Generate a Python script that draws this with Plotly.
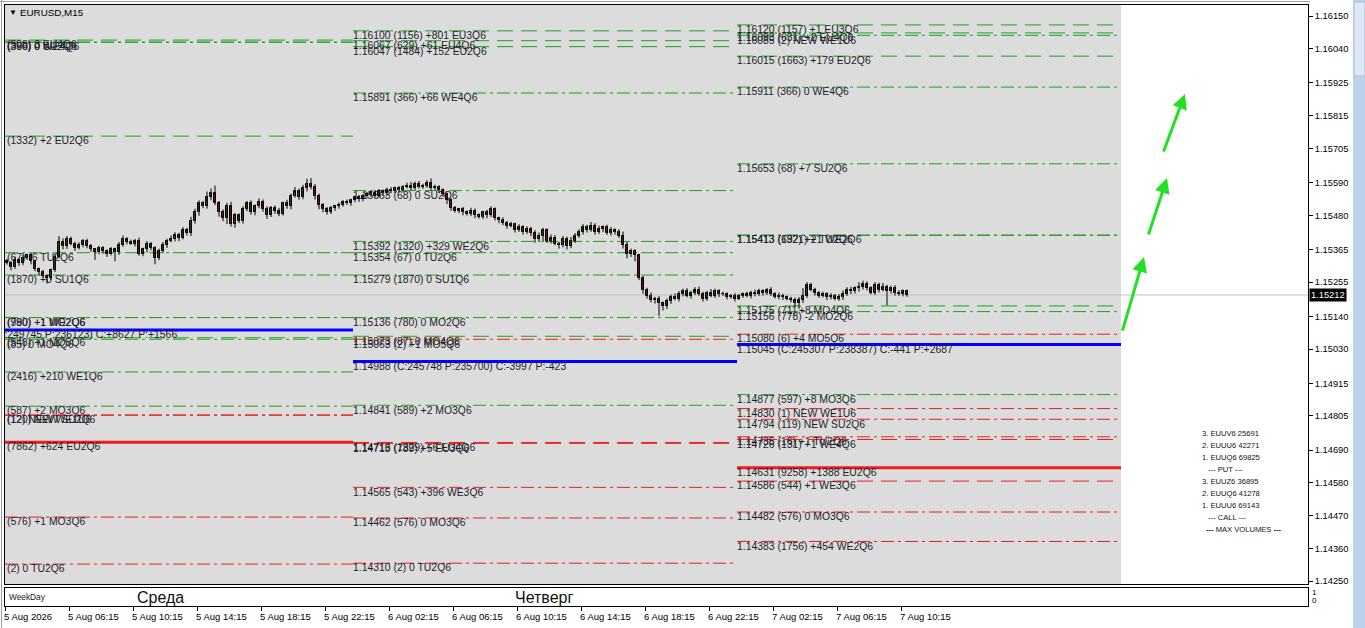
import plotly.graph_objects as go

# ---------------- data ----------------
first_open = 1.15325
closes = [
 1.15320,1.15305,1.15330,1.15318,
 1.15335,1.15345,1.15325,
 1.15300,1.15290,1.15275,1.15270,1.15295,
 1.15340,1.15390,1.15375,1.15400,
 1.15385,1.15370,1.15380,1.15395,1.15375,1.15365,1.15355,1.15370,
 1.15360,1.15350,1.15365,1.15355,1.15380,
 1.15400,1.15390,1.15385,
 1.15395,1.15350,1.15365,1.15385,1.15370,
 1.15335,1.15360,1.15380,
 1.15395,1.15400,1.15415,1.15405,1.15430,1.15420,
 1.15460,1.15490,1.15520,1.15510,1.15540,1.15555,1.15520,
 1.15490,1.15470,1.15510,1.15450,1.15480,1.15460,
 1.15500,1.15520,1.15490,1.15510,1.15525,1.15500,1.15480,1.15505,1.15495,1.15485,
 1.15520,1.15510,1.15545,1.15560,1.15540,
 1.15570,1.15585,1.15575,1.15545,
 1.15515,1.15500,1.15490,1.15505,
 1.15510,1.15515,1.15525,1.15520,1.15530,1.15540,1.15535,
 1.15545,1.15550,1.15555,1.15545,1.15560,1.15555,1.15565,1.15560,1.15570,1.15565,
 1.15575,1.15580,1.15570,1.15585,1.15575,1.15580,1.15590,1.15570,1.15575,1.15565,
 1.15550,1.15530,1.15505,1.15495,1.15500,
 1.15490,1.15485,1.15495,1.15480,1.15475,1.15490,1.15480,1.15500,1.15470,1.15465,
 1.15455,1.15445,1.15450,1.15430,1.15440,1.15425,1.15435,
 1.15420,1.15400,1.15410,1.15430,1.15395,1.15405,1.15385,
 1.15380,1.15400,1.15375,1.15395,1.15410,1.15425,
 1.15440,1.15430,1.15445,1.15425,1.15435,1.15440,1.15420,1.15430,1.15425,1.15410,
 1.15380,1.15350,
 1.15360,1.15345,1.15270,1.15228,
 1.15210,1.15195,1.15200,1.15185,1.15175,1.15190,
 1.15205,1.15200,1.15215,1.15225,1.15210,1.15220,1.15230,1.15215,1.15200,1.15220,1.15210,1.15225,1.15215,
 1.15215,1.15205,1.15210,1.15200,1.15210,1.15215,1.15210,1.15220,1.15215,1.15225,1.15220,1.15230,1.15215,1.15205,1.15210,1.15205,1.15200,1.15195,
 1.15185,1.15195,1.15210,1.15245,
 1.15230,1.15220,1.15210,1.15215,1.15205,1.15210,1.15200,1.15205,1.15215,1.15230,1.15225,1.15235,
 1.15240,1.15250,1.15235,1.15220,1.15245,1.15230,1.15240,1.15225,1.15235,1.15220,1.15215,1.15225,1.15212,
]
# wick lengths in points (1e-5)
upper_wick = [
 8,5,10,6,12,6,8,5,4,6,
 5,6,10,20,12,10,8,6,9,5,
 6,8,5,7,6,5,8,6,10,12,
 6,8,5,10,6,8,5,6,8,10,
 6,12,8,6,10,8,15,12,10,8,
 20,15,25,8,10,12,15,8,6,10,
 8,10,6,12,8,10,6,8,10,6,
 12,8,15,10,12,18,20,10,8,6,
 8,6,5,8,6,8,5,6,8,6,
 8,6,10,8,6,8,10,6,8,6,
 10,12,8,10,6,8,14,8,6,5,
 6,8,6,5,8,6,10,8,6,5,
 8,10,6,5,8,6,8,5,10,6,
 8,6,10,12,8,6,10,8,6,10,
 8,12,10,8,10,8,12,8,10,6,
 8,10,6,8,15,10,8,6,5,6,
 8,10,6,8,5,10,8,12,10,8,
 10,6,8,10,8,6,12,8,6,8,
 6,5,8,6,5,8,6,10,8,6,
 5,8,6,10,6,5,6,8,10,25,
 10,8,6,5,8,6,8,5,10,12,
 8,10,6,15,10,8,6,10,8,12,
 6,8,10,8,6,5,
]
lower_wick = [
 6,10,5,8,6,5,10,8,12,6,
 20,8,6,5,10,8,6,10,5,8,
 6,8,25,6,8,10,5,30,8,6,
 8,5,10,6,8,10,8,20,6,8,
 10,6,8,12,6,8,10,8,12,6,
 8,10,6,15,10,20,8,12,6,8,
 6,8,10,6,8,12,6,10,8,6,
 8,10,6,8,6,10,8,12,15,10,
 8,6,10,8,6,5,8,6,10,8,
 6,8,5,6,8,10,6,5,8,6,
 5,6,8,5,6,8,6,5,10,8,
 12,10,6,8,10,6,8,10,6,8,
 10,6,8,12,8,10,6,8,6,10,
 8,10,12,6,20,8,10,6,12,8,
 10,6,8,6,10,8,6,10,8,12,
 6,8,10,6,12,15,10,20,8,12,
 10,8,12,44,15,10,8,6,10,8,
 6,10,8,6,10,8,6,8,10,6,
 8,6,10,5,8,6,10,8,6,10,
 8,6,5,8,10,6,8,15,20,10,
 8,6,10,8,6,10,8,6,8,10,
 6,10,8,12,10,8,6,8,10,6,
 48,8,10,6,8,6,
]
current_price = 1.15212

# option levels, one block per day (kinds: C- call dashed, C. call dash-dot,
# P- put dashed, P. put dash-dot, PMAX max put volume, BAL balance line)
day1_prices = [1.16069, 1.16062, 1.16062, 1.15746, 1.15354, 1.15279, 1.15136, 1.15136,
               1.15094, 1.15068, 1.15063, 1.14953, 1.14838, 1.14808, 1.14808, 1.14717,
               1.14465, 1.14307]
day1_labels = ["(508) 3 EU4Q6", "(366) 0 WE4Q6", "(390) 0 SU2Q6", "(1332) +2 EU2Q6",
               "(67) -6 TU2Q6", "(1870) +0 SU1Q6", "(990) +1 MO2Q6", "(780) +1 WE2Q6",
               "1.15094 (C:249745 P:236123) C:+8627 P:+1566", "(548) +1 MO5Q6", "(85) 0 MO4Q6",
               "(2416) +210 WE1Q6", "(587) +2 MO3Q6", "(12) NEW WE1U6", "(120) NEW SU2Q6",
               "(7862) +624 EU2Q6", "(576) +1 MO3Q6", "(2) 0 TU2Q6"]
day1_kinds = ["C-", "C.", "C.", "C-", "C.", "C.", "C.", "C.", "BAL", "C-", "C.", "C.", "C.",
              "P.", "P.", "PMAX", "P.", "P."]

day2_prices = [1.16100, 1.16067, 1.16047, 1.15891, 1.15563, 1.15392, 1.15354, 1.15279,
               1.15136, 1.15073, 1.15063, 1.14988, 1.14841, 1.14716, 1.14713, 1.14565,
               1.14462, 1.14310]
day2_labels = ["1.16100 (1156) +801 EU3Q6", "1.16067 (629) +61 EU4Q6", "1.16047 (1484) +152 EU2Q6",
               "1.15891 (366) +66 WE4Q6", "1.15563 (68) 0 SU2Q6", "1.15392 (1320) +329 WE2Q6",
               "1.15354 (67) 0 TU2Q6", "1.15279 (1870) 0 SU1Q6", "1.15136 (780) 0 MO2Q6",
               "1.15073 (87) 0 MO4Q6", "1.15063 (2) +1 MO5Q6",
               "1.14988 (C:245748 P:235700) C:-3997 P:-423", "1.14841 (589) +2 MO3Q6",
               "1.14716 (1329) +6 EU4Q6", "1.14713 (789) +5 EU3Q6", "1.14565 (543) +396 WE3Q6",
               "1.14462 (576) 0 MO3Q6", "1.14310 (2) 0 TU2Q6"]
day2_kinds = ["C-", "C-", "C-", "C.", "C.", "C.", "C.", "C.", "C.", "C-", "P.", "BAL", "C.",
              "P-", "P-", "P.", "P.", "P."]

day3_prices = [1.16120, 1.16093, 1.16085, 1.16015, 1.15911, 1.15653, 1.15413, 1.15413,
               1.15175, 1.15156, 1.15080, 1.15045, 1.14877, 1.14830, 1.14794, 1.14735,
               1.14726, 1.14631, 1.14586, 1.14482, 1.14383]
day3_labels = ["1.16120 (1157) +1 EU3Q6", "1.16093 (631) +2 EU4Q6", "1.16085 (2) NEW WE1U6",
               "1.16015 (1663) +179 EU2Q6", "1.15911 (366) 0 WE4Q6", "1.15653 (68) +7 SU2Q6",
               "1.15413 (692) +2 TU2Q6", "1.15413 (1321) +1 WE2Q6", "1.15175 (71) +8 MO4Q6",
               "1.15156 (778) -2 MO2Q6", "1.15080 (6) +4 MO5Q6",
               "1.15045 (C:245307 P:238387) C:-441 P:+2687", "1.14877 (597) +8 MO3Q6",
               "1.14830 (1) NEW WE1U6", "1.14794 (119) NEW SU2Q6", "1.14735 (16) +1 TU2Q6",
               "1.14726 (131) +1 WE4Q6", "1.14631 (9258) +1388 EU2Q6", "1.14586 (544) +1 WE3Q6",
               "1.14482 (576) 0 MO3Q6", "1.14383 (1756) +454 WE2Q6"]
day3_kinds = ["C-", "C-", "C.", "C-", "C.", "C.", "C.", "C.", "C-", "C.", "P.", "BAL", "C.",
              "P.", "P.", "P.", "P-", "PMAX", "P-", "P.", "P."]

day_start_bar = [-0.5, 86.5, 182.5]
day_end_bar = [86.5, 182.5, 278.5]

# forecast arrows (bar index, price)
arrow_from_bar = [278.75, 285.25, 289.0]
arrow_from_price = [1.15087, 1.15410, 1.15689]
arrow_to_bar = [284.25, 290.0, 294.5]
arrow_to_price = [1.15340, 1.15605, 1.15888]

max_volume_lines = ["3. EUUV6 25691", "2. EUUU6 42271", "1. EUUQ6 69825", "--- PUT ---",
                    "3. EUUZ6 36895", "2. EUUQ6 41278", "1. EUUU6 69143", "--- CALL ---",
                    "<b>---</b> MAX VOLUMES <b>---</b>"]

price_ticks = ["1.16150", "1.16040", "1.15925", "1.15815", "1.15705", "1.15590", "1.15480",
               "1.15365", "1.15255", "1.15140", "1.15030", "1.14915", "1.14805", "1.14690",
               "1.14580", "1.14470", "1.14360", "1.14250"]
time_tick_bars = [0, 16, 32, 48, 64, 80, 96, 112, 128, 144, 160, 176, 192, 208, 224]
time_tick_labels = ["5 Aug 2026", "5 Aug 06:15", "5 Aug 10:15", "5 Aug 14:15", "5 Aug 18:15",
                    "5 Aug 22:15", "6 Aug 02:15", "6 Aug 06:15", "6 Aug 10:15", "6 Aug 14:15",
                    "6 Aug 18:15", "6 Aug 22:15", "7 Aug 02:15", "7 Aug 06:15", "7 Aug 10:15"]
weekday_bars = [32.5, 127.0]
weekday_names = ["Среда", "Четверг"]

# ---------------- styles ----------------
GREEN = "#1fa01f"
RED = "#ee1c1c"
BLUE = "#0000ff"
DASH = "16px,8px"
DASHDOT = "13px,4px,3px,4px"
STYLE = {
    "C-": (GREEN, 1, DASH), "C.": (GREEN, 1, DASHDOT),
    "P-": (RED, 1, DASH), "P.": (RED, 1, DASHDOT),
    "PMAX": (RED, 3, "solid"), "BAL": (BLUE, 3, "solid"),
}
FONT = "Liberation Sans, Arial, sans-serif"
LABEL_COLOR = "#1e1e2a"
W, H = 1365, 628
ML, MR, MT, MB = 5, 57, 5, 22
PW, PH = W - ML - MR, H - MT - MB
XR0, XR1 = -0.5, 325.25


def px_x(px):
    return (px - ML) / PW


def px_y(py):
    return 1 - (py - MT) / PH


def bar_x(b):
    return (b - XR0) / (XR1 - XR0)


main_bottom = px_y(584)
sub_top = px_y(588)
Y0, Y1 = 1.14240, 1.16187
PRICE_PER_PX = (Y1 - Y0) / (584 - 5)

fig = go.Figure()

shapes = []
# time-range rectangle (grey background of the option block)
shapes.append(dict(type="rect", xref="x", yref="y domain", x0=day_start_bar[0], x1=day_end_bar[2],
                   y0=0, y1=1, fillcolor="#dcdcdc", line=dict(width=0), layer="below"))
# current price line
shapes.append(dict(type="line", xref="x domain", yref="y", x0=0, x1=1, y0=current_price,
                   y1=current_price, line=dict(color="#c0c0c0", width=1), layer="below"))

days = [(day1_prices, day1_labels, day1_kinds), (day2_prices, day2_labels, day2_kinds),
        (day3_prices, day3_labels, day3_kinds)]
for d, (prices, labels, kinds) in enumerate(days):
    for p, k in zip(prices, kinds):
        col, wd, dash = STYLE[k]
        shapes.append(dict(type="line", xref="x", yref="y", x0=day_start_bar[d], x1=day_end_bar[d],
                           y0=p, y1=p, line=dict(color=col, width=wd, dash=dash), layer="below"))

# level labels as text traces (drawn below candles)
for d, (prices, labels, kinds) in enumerate(days):
    xs, ys, ts = [], [], []
    for p, t, k in zip(prices, labels, kinds):
        x = day_start_bar[d] + (0.5 if d == 0 else 0.0)
        if d == 0 and k == "BAL":
            x = day_start_bar[d] - 13.0   # label starts left of the chart and is clipped
        xs.append(x)
        ys.append(p - 0.5 * PRICE_PER_PX)
        ts.append(t)
    fig.add_trace(go.Scatter(x=xs, y=ys, text=ts, mode="text", textposition="bottom right",
                             textfont=dict(family=FONT, size=10.4, color=LABEL_COLOR),
                             hoverinfo="skip", showlegend=False, cliponaxis=True))

# candles
n = len(closes)
opens = [first_open] + closes[:-1]
highs = [max(o, c) + u * 1e-5 for o, c, u in zip(opens, closes, upper_wick)]
lows = [min(o, c) - l * 1e-5 for o, c, l in zip(opens, closes, lower_wick)]
wx, wy = [], []
for i in range(n):
    wx += [i, i, None]
    wy += [lows[i], highs[i], None]
fig.add_trace(go.Scatter(x=wx, y=wy, mode="lines", line=dict(color="black", width=1),
                         hoverinfo="skip", showlegend=False))
for bull, colr in ((True, "#1e8c1e"), (False, "#d21e1e")):
    bx, bb, bh = [], [], []
    for i in range(n):
        if (closes[i] >= opens[i]) == bull:
            bx.append(i)
            bb.append(min(opens[i], closes[i]))
            bh.append(max(abs(closes[i] - opens[i]), 0.000004))
    fig.add_trace(go.Bar(x=bx, y=bh, base=bb, width=0.6, marker=dict(color=colr,
                         line=dict(color="black", width=1)), hoverinfo="skip", showlegend=False))

# weekday sub-window dummy trace
fig.add_trace(go.Scatter(x=[0], y=[-1], xaxis="x2", yaxis="y2", mode="markers",
                         marker=dict(size=1, color="rgba(0,0,0,0)"), hoverinfo="skip",
                         showlegend=False))

ann = []
for fb, fp, tb, tp in zip(arrow_from_bar, arrow_from_price, arrow_to_bar, arrow_to_price):
    ann.append(dict(x=tb, y=tp, ax=fb, ay=fp, xref="x", yref="y", axref="x", ayref="y",
                    text="", showarrow=True, arrowhead=2, arrowsize=1, arrowwidth=3,
                    arrowcolor="#22e022", standoff=0))

# max volumes block
for k, t in enumerate(max_volume_lines):
    xp = 1200 if not t.startswith("-") and not t.startswith("<") else 1206
    if t.startswith("<"):
        xp = 1204
    ann.append(dict(x=px_x(xp), y=px_y(433 + 12.1 * k), xref="paper", yref="paper", text=t,
                    showarrow=False, xanchor="left", yanchor="middle",
                    font=dict(family=FONT, size=7.6, color="#111")))

# header
ann.append(dict(x=px_x(7), y=px_y(13), xref="paper", yref="paper", text="▼", showarrow=False,
                xanchor="left", yanchor="middle", font=dict(family=FONT, size=8, color="black")))
ann.append(dict(x=px_x(18), y=px_y(13), xref="paper", yref="paper", text="EURUSD,M15",
                showarrow=False, xanchor="left", yanchor="middle",
                font=dict(family=FONT, size=9.8, color="black")))

# current price box
ann.append(dict(x=1, y=current_price, xref="paper", yref="y", text="1.15212", showarrow=False,
                xanchor="left", yanchor="middle", xshift=1, bgcolor="black", borderpad=1,
                font=dict(family=FONT, size=9.3, color="white")))

# time axis labels
for b, t in zip(time_tick_bars, time_tick_labels):
    ann.append(dict(x=bar_x(b - 0.5), y=px_y(609), xref="paper", yref="paper", text=t,
                    showarrow=False, xanchor="left", yanchor="top", xshift=-3,
                    font=dict(family=FONT, size=9.5, color="black")))

# weekday window texts
ann.append(dict(x=px_x(7), y=px_y(597), xref="paper", yref="paper", text="WeekDay",
                showarrow=False, xanchor="left", yanchor="middle",
                font=dict(family=FONT, size=8.3, color="#222")))
for b, t in zip(weekday_bars, weekday_names):
    ann.append(dict(x=b - 0.6, y=px_y(597), xref="x", yref="paper", text=t, showarrow=False,
                    xanchor="left", yanchor="middle", font=dict(family=FONT, size=16, color="#111")))
ann.append(dict(x=1, y=px_y(592), xref="paper", yref="paper", text="1", showarrow=False,
                xanchor="left", yanchor="middle", xshift=2, font=dict(family=FONT, size=8, color="black")))
ann.append(dict(x=1, y=px_y(600), xref="paper", yref="paper", text="0", showarrow=False,
                xanchor="left", yanchor="middle", xshift=2, font=dict(family=FONT, size=8, color="black")))

# window chrome
shapes.append(dict(type="rect", xref="paper", yref="paper", x0=px_x(1353), x1=px_x(1366),
                   y0=px_y(629), y1=px_y(-1), fillcolor="#bcd2ea", line=dict(width=0)))
shapes.append(dict(type="rect", xref="paper", yref="paper", x0=px_x(1354), x1=px_x(1365),
                   y0=px_y(76), y1=px_y(2), fillcolor="#dfe9f5", line=dict(color="#a8bdd6", width=1)))
shapes.append(dict(type="line", xref="paper", yref="paper", x0=px_x(1.5), x1=px_x(1.5),
                   y0=px_y(629), y1=px_y(0), line=dict(color="#a0a0a0", width=1)))
shapes.append(dict(type="line", xref="paper", yref="paper", x0=px_x(0), x1=px_x(1310),
                   y0=px_y(1.5), y1=px_y(1.5), line=dict(color="#a0a0a0", width=1)))

fig.update_layout(
    width=W, height=H, margin=dict(l=ML, r=MR, t=MT, b=MB),
    paper_bgcolor="white", plot_bgcolor="white", barmode="overlay", bargap=0,
    showlegend=False, shapes=shapes, annotations=ann,
    font=dict(family=FONT, size=9, color="black"),
    xaxis=dict(domain=[0, 1], anchor="y", range=[XR0, XR1], showticklabels=False,
               showgrid=False, zeroline=False, showline=True, mirror=True, linecolor="black",
               linewidth=1, ticks=""),
    yaxis=dict(domain=[main_bottom, 1], anchor="x", side="right", range=[Y0, Y1],
               tickvals=[float(v) for v in price_ticks], ticktext=price_ticks, ticks="outside",
               ticklen=4, tickcolor="black", showgrid=False, zeroline=False, showline=True,
               mirror=True, linecolor="black", linewidth=1,
               tickfont=dict(family=FONT, size=9.3, color="black")),
    xaxis2=dict(domain=[0, 1], anchor="y2", matches="x", range=[XR0, XR1],
                showticklabels=False, tickvals=[b - 0.5 for b in time_tick_bars], ticks="outside",
                ticklen=4, tickcolor="black", showgrid=False, zeroline=False, showline=True,
                mirror=True, linecolor="black", linewidth=1),
    yaxis2=dict(domain=[0, sub_top], anchor="x2", range=[0, 1], showticklabels=False,
                showgrid=False, zeroline=False, showline=True, mirror=True, linecolor="black",
                linewidth=1, ticks=""),
)

fig.write_html("out.html", config={"displayModeBar": False},
               post_script="document.body.style.margin='0px';document.body.style.overflow='hidden';")
